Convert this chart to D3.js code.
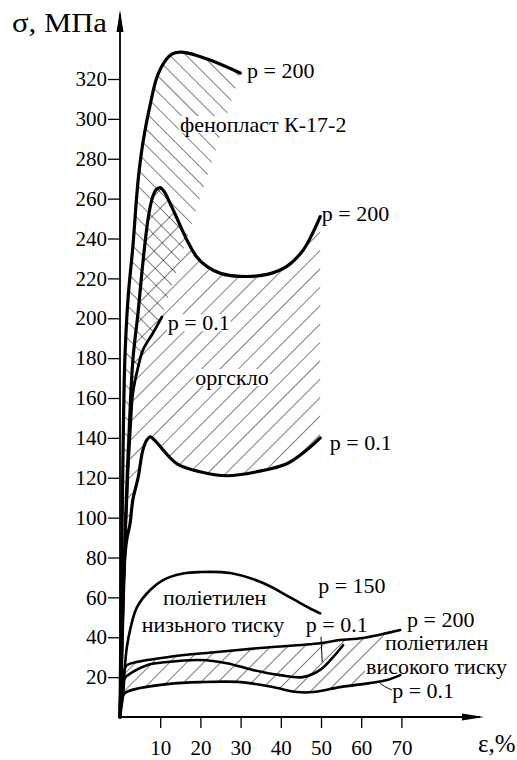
<!DOCTYPE html>
<html><head><meta charset="utf-8">
<script src="https://cdn.jsdelivr.net/npm/d3@7/dist/d3.min.js"></script>
<style>body{margin:0;background:#fff}svg{display:block}svg text{font-family:"Liberation Serif","Times New Roman","DejaVu Serif",serif}</style>
</head><body>
<script>
// ---- data (ε in %, σ in MPa) ----
const yTicks = [20,40,60,80,100,120,140,160,180,200,220,240,260,280,300,320];
const xTicks = [10,20,30,40,50,60,70];
const fenoP200 = [[0,0],[0.3,60],[0.7,125],[1.2,179],[2.0,210],[3.2,236],[4.5,269],[5.7,288],[7.5,307],[9.2,321],[11.2,329],[12.9,332.5],[14.9,333.5],[16.9,333],[22.4,329.5],[29.9,323]];
const fenoP01 = [[0,0],[0.5,39],[1.2,84],[2.0,124],[2.7,149],[3.2,162.5],[4.5,175.5],[5.7,184],[8.2,192.6],[10.4,200.6]];
const orgP200 = [[0,0],[0.7,50],[1.4,100],[2.2,140],[3.2,179],[4.5,203],[5.7,228],[7,250],[8,260],[9,264.5],[10,265.5],[11,263.5],[12.5,257.5],[14.2,250],[16.7,239],[19,231],[21.6,226],[25,222.5],[29.9,221],[36.6,222],[41.5,226],[45.5,234],[48,243],[49.8,251]];
const orgP01 = [[0,0],[0.4,30],[0.9,70],[1.6,88],[2.5,97],[3.2,109],[4.5,120],[5.7,134],[6.7,139],[7.5,140.5],[9,138],[10.7,134],[14.2,127],[19.9,123],[26.6,121],[34,123],[41.5,127],[46.5,134],[49.8,140]];
const peLowP150 = [[0,0],[0.8,12],[1.2,25],[1.7,35],[2.5,43.6],[4.2,55],[7.5,63.7],[10.7,68.7],[15.7,72],[19.9,72.7],[27.4,72.2],[35.6,67.2],[42.3,60],[48,53.7],[49.8,52]];
const peLowP01 = [[0,0],[0.5,12],[1.2,19.5],[3.2,22.6],[6.7,26],[11.7,27.6],[19.9,28.6],[26.6,27],[33,23.6],[39.8,21],[45.5,20],[49.8,23.6],[53,30],[55.5,36]];
const peHighP200 = [[0,0],[0.5,15],[1.2,24],[1.7,26],[11.7,30],[24.1,32.6],[34.8,34.6],[49.8,37],[54.7,38.6],[60.4,39.6],[69.7,43.6]];
const peHighP01 = [[0,0],[0.4,8],[1.2,12],[5,14.5],[11.7,16.5],[20,17.5],[30,17.5],[38,15],[44,12.5],[48,12.5],[54.7,15],[62.2,17],[66.4,18.5],[69.7,21]];
const peClip = [[-2,-10],[-2,100],[77.5,100],[55.5,-10]];
// labels: [text, ε, σ]
const labels = [
  ["p = 200", 31.6, 320.5],
  ["фенопласт К-17-2", 14.9, 293.4],
  ["p = 200", 50.2, 249],
  ["p = 0.1", 11.9, 194],
  ["оргскло", 18.7, 166.5],
  ["p = 0.1", 52.2, 134],
  ["p = 150", 49.3, 62.2],
  ["поліетилен", 10.7, 56],
  ["низьного тиску", 5.4, 42.6],
  ["p = 0.1", 46.2, 42.6],
  ["p = 200", 71.4, 45.2],
  ["поліетилен", 65.9, 33.8],
  ["високого тиску", 61.2, 21.6],
  ["p = 0.1", 67.7, 9.5]
];
const leaders = [
  [[50.0,40.2],[50.3,27.6]],
  [[64.7,16.8],[66.2,14.8],[67.6,13.6]]
];

const W = 517, H = 760;
const FONT = "Liberation Serif";
const sx = d3.scaleLinear().domain([0,70]).range([120, 401.4]);
const sy = d3.scaleLinear().domain([0,320]).range([717, 79]);

const svg = d3.select("body").append("svg").attr("width",W).attr("height",H);
const defs = svg.append("defs");
function hatch(id, period, angle){
  const p = defs.append("pattern").attr("id",id).attr("patternUnits","userSpaceOnUse")
    .attr("width",period).attr("height",period).attr("patternTransform",`rotate(${angle})`);
  p.append("line").attr("x1",0).attr("y1",-1).attr("x2",0).attr("y2",period+1)
    .attr("stroke","#000").attr("stroke-width",1);
}
hatch("hFeno", 11.5, -45);
hatch("hOrg", 13, 45);
hatch("hPe", 12, 45);

const line = d3.line().x(d=>sx(d[0])).y(d=>sy(d[1])).curve(d3.curveCatmullRom.alpha(0.5));
function region(a, b){
  const pa = line(a);
  const pb = line(b.slice().reverse());
  return pa + "L" + pb.slice(1) + "Z";
}
defs.append("clipPath").attr("id","peClip").append("path")
  .attr("d", d3.line().x(d=>sx(d[0])).y(d=>sy(d[1]))(peClip)+"Z");

const g = svg.append("g");
g.append("path").attr("d",region(fenoP200, fenoP01)).attr("fill","url(#hFeno)");
g.append("path").attr("d",region(orgP200, orgP01)).attr("fill","url(#hOrg)");
g.append("path").attr("d",region(peHighP200, peHighP01)).attr("fill","url(#hPe)").attr("clip-path","url(#peClip)");

// labels with white backgrounds
const lab = svg.append("g");
labels.forEach(([t,e,s])=>{
  const gg = lab.append("g");
  const tx = gg.append("text").attr("x",sx(e)).attr("y",sy(s)).attr("font-size",22)
    .attr("font-family",FONT).text(t);
  const bb = tx.node().getBBox();
  gg.insert("rect","text").attr("x",bb.x-1).attr("y",bb.y+4).attr("width",bb.width+2).attr("height",bb.height-8).attr("fill","#fff");
});

// curves
const curves = [
  [fenoP200,3.2],[fenoP01,2.8],[orgP200,3.2],[orgP01,3.2],
  [peLowP150,2.6],[peLowP01,2.6],[peHighP200,2.6],[peHighP01,2.6]
];
curves.forEach(([d,w])=>{
  svg.append("path").attr("d",line(d)).attr("fill","none").attr("stroke","#000")
    .attr("stroke-width",w).attr("stroke-linejoin","round").attr("stroke-linecap","round");
});
leaders.forEach(d=>{
  svg.append("path").attr("d",d3.line().x(p=>sx(p[0])).y(p=>sy(p[1])).curve(d3.curveBasis)(d))
    .attr("fill","none").attr("stroke","#000").attr("stroke-width",1);
});

// axes
const yAxis = d3.axisLeft(sy).tickValues(yTicks).tickSize(12).tickPadding(1).tickFormat(d3.format("d"));
const ya = svg.append("g").attr("transform",`translate(${sx(0)},0)`).call(yAxis);
ya.attr("font-family",FONT);
ya.select(".domain").remove();
ya.selectAll(".tick line").attr("stroke","#000").attr("stroke-width",1.3);
ya.selectAll(".tick text").attr("font-size",21).attr("font-family",FONT).attr("fill","#000");

const xAxis = d3.axisBottom(sx).tickValues(xTicks).tickSize(11).tickPadding(12);
const xa = svg.append("g").attr("transform",`translate(0,${sy(0)})`).call(xAxis);
xa.attr("font-family",FONT);
xa.select(".domain").remove();
xa.selectAll(".tick line").attr("stroke","#000").attr("stroke-width",1.3);
xa.selectAll(".tick text").attr("font-size",21).attr("font-family",FONT).attr("fill","#000");

const x0 = sx(0), y0 = sy(0);
svg.append("line").attr("x1",x0).attr("y1",y0).attr("x2",x0).attr("y2",14).attr("stroke","#000").attr("stroke-width",1.8);
svg.append("path").attr("d",`M${x0},10 L${x0-3.5},32 L${x0+3.5},32 Z`).attr("fill","#000");
svg.append("line").attr("x1",x0).attr("y1",y0).attr("x2",480).attr("y2",y0).attr("stroke","#000").attr("stroke-width",1.8);
svg.append("path").attr("d",`M484,${y0} L462,${y0-3.5} L462,${y0+3.5} Z`).attr("fill","#000");

svg.append("text").attr("x",12).attr("y",32).attr("font-size",27).attr("font-family",FONT)
  .attr("textLength",95).attr("lengthAdjust","spacingAndGlyphs").text("σ, МПа");
svg.append("text").attr("x",478).attr("y",752).attr("font-size",25).attr("font-family",FONT).text("ε,%");
</script>
</body></html>
